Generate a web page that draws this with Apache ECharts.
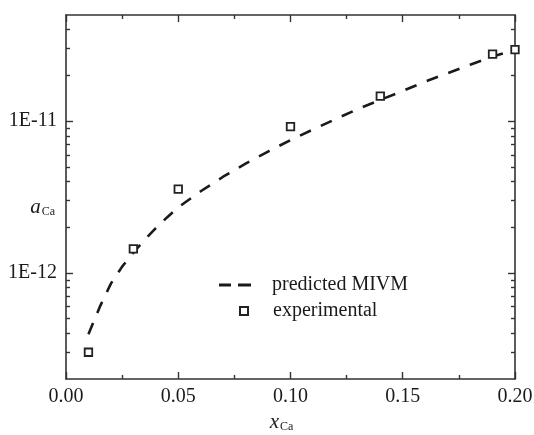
<!DOCTYPE html>
<html>
<head>
<meta charset="utf-8">
<script src="https://cdn.jsdelivr.net/npm/echarts@6/dist/echarts.min.js"></script>
<style>
html, body { margin: 0; padding: 0; background: #fff; }
#chart { width: 534px; height: 435px; }
</style>
</head>
<body>
<div id="chart"></div>
<script>
// Activity of Ca versus its mole fraction: MIVM prediction and measured points
const modelX = [0.01, 0.015, 0.02, 0.025, 0.03, 0.035, 0.04, 0.045, 0.05, 0.06, 0.07, 0.08,
                0.09, 0.10, 0.11, 0.12, 0.13, 0.14, 0.15, 0.16, 0.17, 0.18, 0.19, 0.20];
const modelA = [3.95e-13, 5.95e-13, 8.5e-13, 1.10e-12, 1.36e-12, 1.65e-12, 1.97e-12, 2.32e-12,
                2.70e-12, 3.45e-12, 4.3e-12, 5.25e-12, 6.3e-12, 7.5e-12, 8.8e-12, 1.03e-11,
                1.2e-11, 1.38e-11, 1.58e-11, 1.82e-11, 2.07e-11, 2.35e-11, 2.66e-11, 2.95e-11];
const expX = [0.01, 0.03, 0.05, 0.10, 0.14, 0.19, 0.20];
const expA = [3.0e-13, 1.44e-12, 3.56e-12, 9.2e-12, 1.46e-11, 2.76e-11, 2.96e-11];

const yMajorTicks = [1e-12, 1e-11];
const yMinorTicks = [3e-13, 4e-13, 5e-13, 6e-13, 7e-13, 8e-13, 9e-13,
                     2e-12, 3e-12, 4e-12, 5e-12, 6e-12, 7e-12, 8e-12, 9e-12,
                     2e-11, 3e-11, 4e-11];
const seriesNames = ['predicted MIVM', 'experimental'];

const FONT = "'Liberation Serif', 'Times New Roman', serif";
const INK = '#1a1a1a';
const AXIS = '#333';

const axisLine = { show: true, lineStyle: { color: AXIS, width: 1.6 } };
const tickStyle = { color: AXIS, width: 1.4 };

function xAxisOf(position, withLabels) {
  return {
    type: 'value', position: position, min: 0, max: 0.2, interval: 0.05,
    axisLine: axisLine,
    axisTick: { show: true, inside: true, length: 7, lineStyle: tickStyle },
    minorTick: { show: true, splitNumber: 2, length: 4, lineStyle: tickStyle },
    splitLine: { show: false },
    axisLabel: withLabels ? {
      show: true, margin: 8, fontFamily: FONT, fontSize: 20, color: INK,
      formatter: v => v.toFixed(2)
    } : { show: false }
  };
}

function yAxisOf(position, major, withLabels) {
  return {
    type: 'log', logBase: 10, position: position, min: 2e-13, max: 5e-11,
    axisLine: major ? axisLine : { show: false },
    axisTick: {
      show: true, inside: true, length: major ? 7 : 4, lineStyle: tickStyle,
      customValues: major ? yMajorTicks : yMinorTicks
    },
    minorTick: { show: false },
    splitLine: { show: false },
    axisLabel: withLabels ? {
      show: true, margin: 9, fontFamily: FONT, fontSize: 20, color: INK,
      customValues: yMajorTicks,
      formatter: v => '1E' + Math.round(Math.log10(v))
    } : { show: false }
  };
}

const nameRich = {
  v: { fontFamily: FONT, fontStyle: 'italic', fontSize: 21, color: INK },
  s: { fontFamily: FONT, fontSize: 12, color: INK, padding: [10, 0, 0, 1] }
};

const xNameAxis = xAxisOf('bottom', true);
xNameAxis.name = '{v|x}{s|Ca}';
xNameAxis.nameLocation = 'middle';
xNameAxis.nameGap = 32;
xNameAxis.nameMoveOverlap = false;
xNameAxis.nameTextStyle = { padding: [0, 18, 0, 0], rich: nameRich };

const yNameAxis = yAxisOf('left', true, true);
yNameAxis.name = '{v|a}{s|Ca}';
yNameAxis.nameLocation = 'middle';
yNameAxis.nameRotate = 0;
yNameAxis.nameGap = 11;
yNameAxis.nameMoveOverlap = false;
yNameAxis.nameTextStyle = { padding: [20, 0, 0, 0], rich: nameRich };

const chart = echarts.init(document.getElementById('chart'), null, { renderer: 'canvas' });
chart.setOption({
  backgroundColor: '#fff',
  animation: false,
  grid: { left: 66, right: 19, top: 15, bottom: 56, containLabel: false, outerBoundsMode: 'none' },
  xAxis: [xNameAxis, xAxisOf('top', false)],
  yAxis: [
    yNameAxis,
    yAxisOf('left', false, false),
    yAxisOf('right', true, false),
    yAxisOf('right', false, false)
  ],
  legend: [
    {
      data: [{ name: seriesNames[0], icon: 'path://M0,0H12V3H0Z M19,0H32V3H19Z' }],
      left: 219, top: 275, padding: 0,
      itemWidth: 32, itemHeight: 3,
      itemStyle: { color: '#1a1a1a' },
      textStyle: { fontFamily: FONT, fontSize: 20, color: INK, padding: [0, 0, 0, 16] }
    },
    {
      data: [seriesNames[1]], left: 239, top: 301, padding: 0,
      itemWidth: 8, itemHeight: 8,
      textStyle: { fontFamily: FONT, fontSize: 20, color: INK, padding: [0, 0, 0, 20] }
    }
  ],
  series: [
    {
      name: seriesNames[0], type: 'line', xAxisIndex: 0, yAxisIndex: 0,
      data: modelX.map((x, i) => [x, modelA[i]]),
      showSymbol: false, symbol: 'none', smooth: false,
      lineStyle: { color: '#1a1a1a', width: 2.6, type: [12, 11] },
      itemStyle: { color: '#1a1a1a' },
      z: 2
    },
    {
      name: seriesNames[1], type: 'scatter', xAxisIndex: 0, yAxisIndex: 0,
      data: expX.map((x, i) => [x, expA[i]]),
      symbol: 'rect', symbolSize: 7.5, clip: true,
      itemStyle: { color: '#fff', borderColor: '#222', borderWidth: 1.8, opacity: 1 },
      z: 3
    }
  ]
});
</script>
</body>
</html>
